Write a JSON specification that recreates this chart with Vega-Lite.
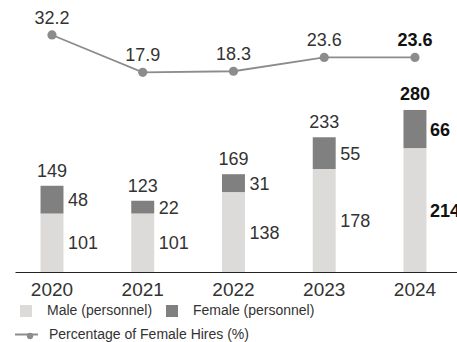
{
  "$schema": "https://vega.github.io/schema/vega-lite/v6.json",
  "width": 442,
  "height": 272,
  "autosize": {"type": "none"},
  "padding": {"left": 15, "top": 0, "right": 0, "bottom": 70},
  "background": "white",
  "config": {
    "view": {"stroke": null},
    "font": "Liberation Sans",
    "text": {"font": "Liberation Sans", "fontSize": 18, "color": "#333333"},
    "legend": {"labelFont": "Liberation Sans", "labelFontSize": 14, "labelColor": "#333333", "title": null, "padding": 0, "labelLimit": 0}
  },
  "datasets": {
    "bars": [
      {"year": "2020", "gender": "Male (personnel)", "count": 101},
      {"year": "2020", "gender": "Female (personnel)", "count": 48},
      {"year": "2021", "gender": "Male (personnel)", "count": 101},
      {"year": "2021", "gender": "Female (personnel)", "count": 22},
      {"year": "2022", "gender": "Male (personnel)", "count": 138},
      {"year": "2022", "gender": "Female (personnel)", "count": 31},
      {"year": "2023", "gender": "Male (personnel)", "count": 178},
      {"year": "2023", "gender": "Female (personnel)", "count": 55},
      {"year": "2024", "gender": "Male (personnel)", "count": 214},
      {"year": "2024", "gender": "Female (personnel)", "count": 66}
    ],
    "pct": [
      {"year": "2020", "pct": 32.2},
      {"year": "2021", "pct": 17.9},
      {"year": "2022", "pct": 18.3},
      {"year": "2023", "pct": 23.6},
      {"year": "2024", "pct": 23.6}
    ]
  },
  "encoding": {
    "x": {
      "field": "year", "type": "nominal",
      "scale": {"paddingInner": 0.747, "paddingOuter": 0.309, "align": 0.455},
      "axis": {"title": null, "ticks": false, "domainColor": "#222222", "domainWidth": 1, "labelAngle": 0, "labelFont": "Liberation Sans", "labelFontSize": 19, "labelColor": "#333333", "labelPadding": 8, "grid": false}
    }
  },
  "layer": [
    {
      "data": {"name": "bars"},
      "mark": {"type": "bar"},
      "encoding": {
        "y": {"field": "count", "type": "quantitative", "stack": "zero", "scale": {"domain": [0, 470], "nice": false}, "axis": null},
        "color": {"field": "gender", "type": "nominal",
          "scale": {"domain": ["Male (personnel)", "Female (personnel)"], "range": ["#dcdbd9", "#808080"]},
          "legend": {"orient": "none", "legendX": 4, "legendY": 304, "direction": "horizontal", "symbolType": "square", "symbolSize": 144, "symbolStrokeWidth": 0, "labelOffset": 14, "columnPadding": 12}},
        "order": {"field": "gender", "sort": "descending"}
      }
    },
    {
      "data": {"name": "bars"},
      "transform": [
        {"stack": "count", "groupby": ["year"], "sort": [{"field": "gender", "order": "descending"}], "as": ["y0", "y1"]},
        {"calculate": "(datum.y0 + datum.y1) / 2", "as": "mid"},
        {"filter": "datum.year != '2024'"}
      ],
      "mark": {"type": "text", "align": "left", "baseline": "alphabetic", "dx": 16, "dy": 6.5},
      "encoding": {
        "y": {"field": "mid", "type": "quantitative", "scale": {"domain": [0, 470], "nice": false}, "axis": null},
        "text": {"field": "count", "type": "quantitative"}
      }
    },
    {
      "data": {"name": "bars"},
      "transform": [
        {"stack": "count", "groupby": ["year"], "sort": [{"field": "gender", "order": "descending"}], "as": ["y0", "y1"]},
        {"calculate": "(datum.y0 + datum.y1) / 2", "as": "mid"},
        {"filter": "datum.year == '2024'"}
      ],
      "mark": {"type": "text", "align": "left", "baseline": "alphabetic", "dx": 15, "dy": 6.5, "fontWeight": "bold", "color": "#111111"},
      "encoding": {
        "y": {"field": "mid", "type": "quantitative", "scale": {"domain": [0, 470], "nice": false}, "axis": null},
        "text": {"field": "count", "type": "quantitative"}
      }
    },
    {
      "data": {"name": "bars"},
      "transform": [
        {"aggregate": [{"op": "sum", "field": "count", "as": "total"}], "groupby": ["year"]},
        {"filter": "datum.year != '2024'"}
      ],
      "mark": {"type": "text", "align": "center", "baseline": "alphabetic", "dy": -9},
      "encoding": {
        "y": {"field": "total", "type": "quantitative", "scale": {"domain": [0, 470], "nice": false}, "axis": null},
        "text": {"field": "total", "type": "quantitative"}
      }
    },
    {
      "data": {"name": "bars"},
      "transform": [
        {"aggregate": [{"op": "sum", "field": "count", "as": "total"}], "groupby": ["year"]},
        {"filter": "datum.year == '2024'"}
      ],
      "mark": {"type": "text", "align": "center", "baseline": "alphabetic", "dy": -10, "fontWeight": "bold", "color": "#111111"},
      "encoding": {
        "y": {"field": "total", "type": "quantitative", "scale": {"domain": [0, 470], "nice": false}, "axis": null},
        "text": {"field": "total", "type": "quantitative"}
      }
    },
    {
      "data": {"name": "pct"},
      "mark": {"type": "line", "strokeWidth": 1.8},
      "encoding": {
        "y": {"field": "pct", "type": "quantitative", "scale": {"domain": [-58.6, 45.6], "nice": false, "zero": false}, "axis": null},
        "stroke": {"datum": "Percentage of Female Hires (%)", "scale": {"range": ["#8c8c8c"]},
          "legend": {"orient": "none", "legendX": -1, "legendY": 322, "symbolType": "stroke", "symbolSize": 529, "symbolStrokeWidth": 2, "labelOffset": 10}}
      }
    },
    {
      "data": {"name": "pct"},
      "mark": {"type": "circle", "size": 85, "opacity": 1},
      "encoding": {
        "y": {"field": "pct", "type": "quantitative", "scale": {"domain": [-58.6, 45.6], "nice": false, "zero": false}, "axis": null},
        "fill": {"datum": "pt", "scale": {"range": ["#8c8c8c"]},
          "legend": {"orient": "none", "legendX": 8, "legendY": 329, "symbolType": "circle", "symbolSize": 40, "symbolStrokeWidth": 0, "labelExpr": "''"}}
      }
    },
    {
      "data": {"name": "pct"},
      "transform": [{"filter": "datum.year != '2024'"}],
      "mark": {"type": "text", "align": "center", "baseline": "alphabetic", "dy": -11},
      "encoding": {
        "y": {"field": "pct", "type": "quantitative", "scale": {"domain": [-58.6, 45.6], "nice": false, "zero": false}, "axis": null},
        "text": {"field": "pct", "type": "quantitative", "format": ".1f"}
      }
    },
    {
      "data": {"name": "pct"},
      "transform": [{"filter": "datum.year == '2024'"}],
      "mark": {"type": "text", "align": "center", "baseline": "alphabetic", "dy": -11, "fontWeight": "bold", "color": "#111111"},
      "encoding": {
        "y": {"field": "pct", "type": "quantitative", "scale": {"domain": [-58.6, 45.6], "nice": false, "zero": false}, "axis": null},
        "text": {"field": "pct", "type": "quantitative", "format": ".1f"}
      }
    }
  ],
  "resolve": {"scale": {"y": "independent"}}
}
